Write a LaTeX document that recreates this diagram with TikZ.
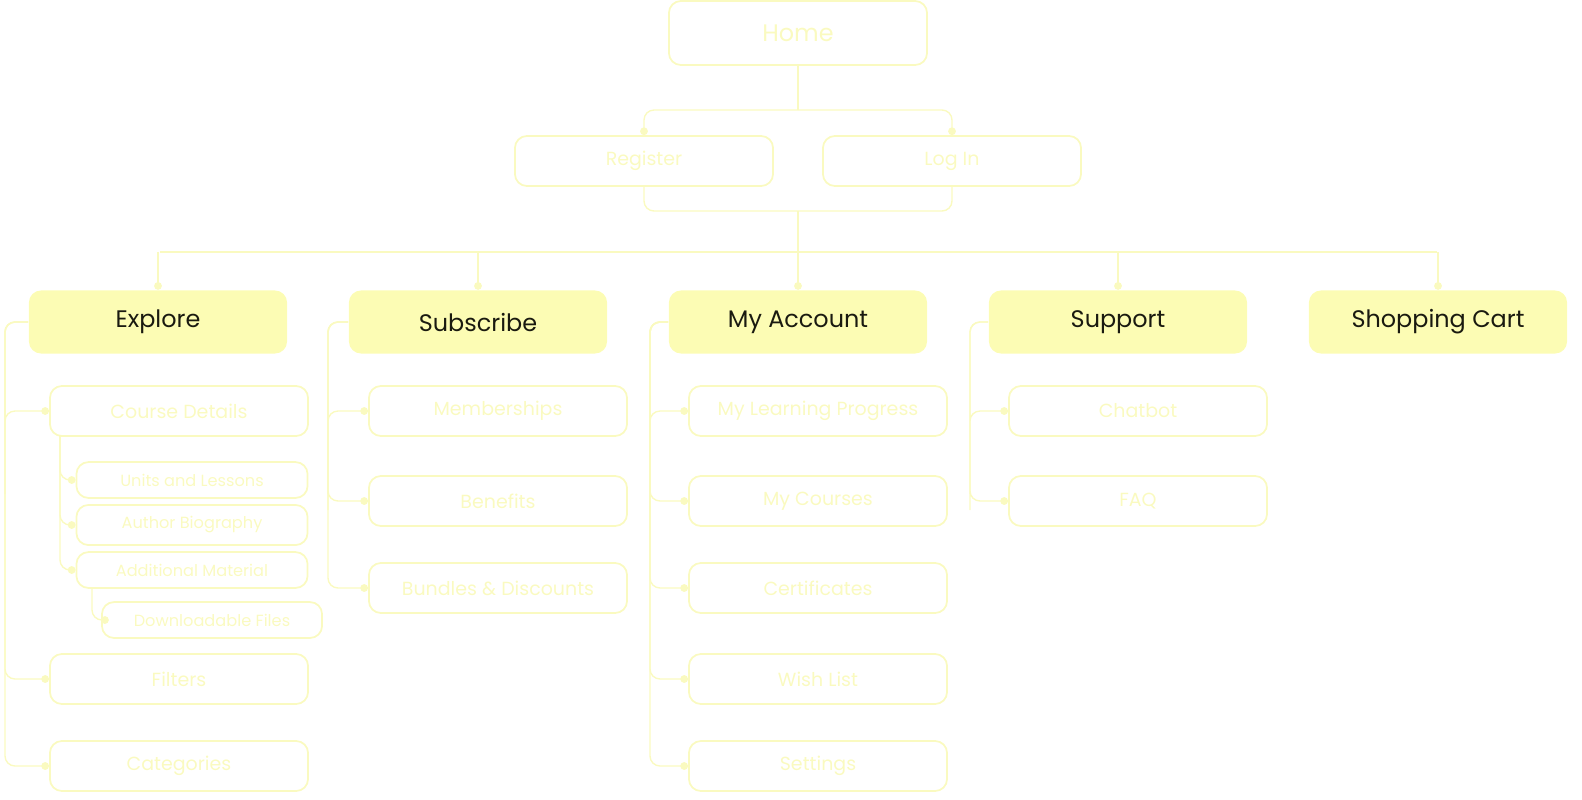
\documentclass[tikz,border=0pt]{standalone}
\usepackage{fontspec}
\setmainfont{Poppins}
\usetikzlibrary{arrows.meta}
\definecolor{pale}{HTML}{FAFAC0}
\definecolor{main}{HTML}{FCFCB4}
\definecolor{ink}{HTML}{1A1A10}
\tikzset{
  box/.style={draw=pale,line width=0.5pt,rounded corners=0.12cm,minimum width=2.58cm,minimum height=0.5cm,text=pale,font=\fontsize{5.4}{6}\selectfont},
  small/.style={box,minimum width=2.31cm,minimum height=0.35cm,font=\fontsize{4.6}{5}\selectfont},
  head/.style={fill=main,draw=none,rounded corners=0.12cm,minimum width=2.58cm,minimum height=0.63cm,text=ink,font=\fontsize{6.8}{8}\selectfont},
  link/.style={draw=pale,line width=0.4pt,rounded corners=0.1cm,-{Circle[length=2.2pt]}}
}
\begin{document}
\begin{tikzpicture}[x=0.01cm,y=-0.01cm]
\useasboundingbox (0,0) rectangle (1582,799);
\node[box,minimum height=0.64cm,font=\fontsize{6.8}{8}\selectfont] (home) at (798,33) {Home};
\node[box] (reg) at (644,161) {Register};
\node[box] (login) at (952,161) {Log In};
\node[head] (explore) at (158,322) {Explore};
\node[head] (subscribe) at (478,322) {Subscribe};
\node[head] (account) at (798,322) {My Account};
\node[head] (support) at (1118,322) {Support};
\node[head] (cart) at (1438,322) {Shopping Cart};
% explore
\node[box] (details) at (179,411) {Course Details};
\node[small] (units) at (192,480) {Units and Lessons};
\node[small] (bio) at (192,525) {Author Biography};
\node[small] (material) at (192,570) {Additional Material};
\node[small,minimum width=2.2cm] (files) at (212,620) {Downloadable Files};
\node[box] (filters) at (179,679) {Filters};
\node[box] (categories) at (179,766) {Categories};
% subscribe
\node[box] (members) at (498,411) {Memberships};
\node[box] (benefits) at (498,501) {Benefits};
\node[box] (bundles) at (498,588) {Bundles \& Discounts};
% my account
\node[box] (progress) at (818,411) {My Learning Progress};
\node[box] (courses) at (818,501) {My Courses};
\node[box] (certs) at (818,588) {Certificates};
\node[box] (wish) at (818,679) {Wish List};
\node[box] (settings) at (818,766) {Settings};
% support
\node[box] (chatbot) at (1138,411) {Chatbot};
\node[box] (faq) at (1138,501) {FAQ};
% home links
\coordinate (split) at (798,110);
\coordinate (merge) at (798,211);
\draw[draw=pale,line width=0.4pt] (home.south) -- (split);
\draw[link] (split) -| (reg.north);
\draw[link] (split) -| (login.north);
\draw[link,-] (reg.south) |- (merge);
\draw[link,-] (login.south) |- (merge);
\draw[link] (merge) -- (account.north);
\draw[link,-] (160,252) -- (1437,252);
\foreach \n/\x in {explore/158,subscribe/478,support/1118,cart/1438}
  \draw[link] (\x,252) -- (\n.north);
% children
\foreach \p/\x/\c in {explore/5/details,explore/5/filters,explore/5/categories,
  subscribe/328/members,subscribe/328/benefits,subscribe/328/bundles,
  account/650/progress,account/650/courses,account/650/certs,account/650/wish,account/650/settings,
  support/970/chatbot,support/970/faq}
  \draw[link] (\p.west) -| (\x,500) |- (\c.west);
\foreach \c in {units,bio,material}
  \draw[link] (60,436) |- (\c.west);
\draw[link] (92,588) |- (files.west);
\end{tikzpicture}
\end{document}
